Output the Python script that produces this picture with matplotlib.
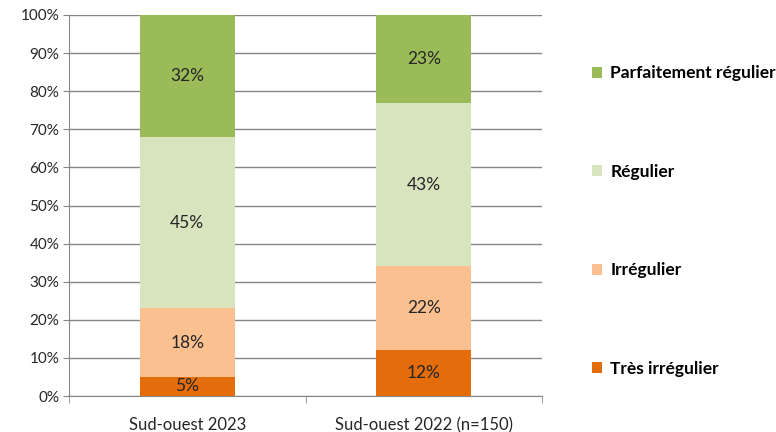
import matplotlib
matplotlib.use("Agg")
import matplotlib.pyplot as plt
from matplotlib.patches import Patch
import numpy as np

# data
categories = ["Sud-ouest 2023", "Sud-ouest 2022 (n=150)"]
series_names = ["Très irrégulier", "Irrégulier", "Régulier", "Parfaitement régulier"]
tres_irregulier = [5, 12]
irregulier = [18, 22]
regulier = [45, 43]
parfait = [32, 23]

colors = ["#E46C0A", "#FAC090", "#D7E4BD", "#9BBB59"]

plt.rcParams["font.family"] = ["Lato", "DejaVu Sans"]

fig = plt.figure(figsize=(7.76, 4.32), dpi=100)
ax = fig.add_axes([69 / 776, 1 - 396 / 432, (542 - 69) / 776, (396 - 15) / 432])

x = np.arange(len(categories))
bottom = np.zeros(len(categories))
for name, vals, col in zip(series_names, [tres_irregulier, irregulier, regulier, parfait], colors):
    ax.bar(x, vals, bottom=bottom, width=0.40, color=col, zorder=3, label=name)
    for xi, b, v in zip(x, bottom, vals):
        ax.text(xi, b + v / 2, f"{v}%", ha="center", va="center",
                fontsize=12.5, color="#262626", zorder=4)
    bottom += np.array(vals)

ax.set_xlim(-0.5, 1.5)
ax.set_ylim(0, 100)
ax.set_yticks(np.arange(0, 101, 10))
ax.set_yticklabels([f"{v}%" for v in range(0, 101, 10)], fontsize=11, color="#262626")
ax.set_xticks(x)
ax.set_xticklabels(categories, fontsize=12, color="#262626")
ax.tick_params(axis="x", which="major", length=0, pad=15)
ax.set_xticks([-0.5, 0.5, 1.5], minor=True)
ax.tick_params(axis="x", which="minor", length=5, color="#868686")
ax.tick_params(axis="y", length=4, color="#868686", pad=3)

ax.grid(axis="y", color="#868686", linewidth=1, zorder=0)
for s in ["top", "right"]:
    ax.spines[s].set_visible(False)
for s in ["left", "bottom"]:
    ax.spines[s].set_color("#868686")

handles = [Patch(facecolor=c, label=n) for n, c in zip(series_names, colors)][::-1]
leg = fig.legend(handles=handles, loc="center left", bbox_to_anchor=(592 / 776, 1 - 221 / 432),
                 frameon=False, prop={"size": 12.5, "weight": "bold"},
                 handlelength=0.6, handleheight=0.6, handletextpad=0.45, labelspacing=4.75,
                 borderaxespad=0, borderpad=0)

fig.savefig("out.png", dpi=100)
